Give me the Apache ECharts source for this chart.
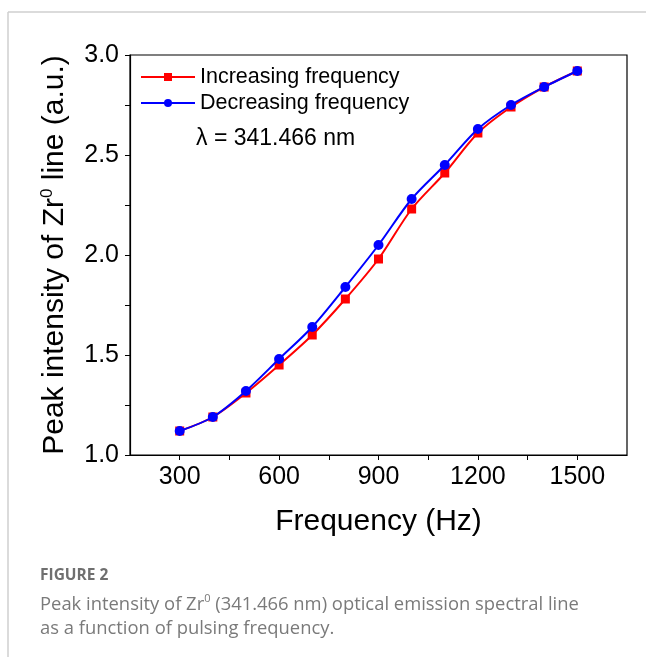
<!DOCTYPE html>
<html>
<head>
<meta charset="utf-8">
<script src="https://cdn.jsdelivr.net/npm/echarts@6/dist/echarts.min.js"></script>
<style>
  html, body { margin: 0; padding: 0; background: #fff; }
  #main { width: 646px; height: 657px; }
</style>
</head>
<body>
<div id="main"></div>
<script>
// pulsing frequency (Hz)
var frequency = [300, 400, 500, 600, 700, 800, 900, 1000, 1100, 1200, 1300, 1400, 1500];
// peak intensity, a.u.
var increasing = [1.12, 1.19, 1.31, 1.45, 1.60, 1.78, 1.98, 2.23, 2.41, 2.61, 2.74, 2.84, 2.92];
var decreasing = [1.12, 1.19, 1.32, 1.48, 1.64, 1.84, 2.05, 2.28, 2.45, 2.63, 2.75, 2.84, 2.92];
var seriesNames = ['Increasing frequency', 'Decreasing frequency'];

function pairs(xs, ys) {
    var out = [];
    for (var i = 0; i < xs.length; i++) {
        out.push([xs[i], ys[i]]);
    }
    return out;
}

var font = 'Liberation Sans, Arial, sans-serif';
var capFont = 'Open Sans, Noto Sans, sans-serif';

var myChart = echarts.init(document.getElementById('main'));
var option = {
    animation: false,
    backgroundColor: '#fff',
    grid: {
        left: 130, right: 19, top: 55, bottom: 202,
        show: true, borderColor: '#000', borderWidth: 1.2
    },
    legend: {
        orient: 'vertical',
        left: 140, top: 66, padding: 0,
        itemWidth: 54, itemHeight: 10, itemGap: 4,
        textStyle: { fontFamily: font, fontSize: 21.5, color: '#000' },
        data: seriesNames
    },
    xAxis: {
        type: 'value',
        min: 150, max: 1650, interval: 150,
        name: 'Frequency (Hz)',
        nameLocation: 'middle',
        nameGap: 52,
        nameTextStyle: { fontFamily: font, fontSize: 30, color: '#000' },
        axisLine: { show: true, lineStyle: { color: '#000', width: 1.2 } },
        axisTick: { show: true, inside: false, length: 5, lineStyle: { color: '#000' } },
        axisLabel: {
            margin: 10, fontFamily: font, fontSize: 25, color: '#000',
            showMinLabel: false, showMaxLabel: false,
            formatter: function (v) { return v % 300 === 0 ? String(v) : ''; }
        },
        splitLine: { show: false }
    },
    yAxis: {
        type: 'value',
        min: 1, max: 3, interval: 0.25,
        name: '{n|Peak intensity of Zr}{s|0}{n| line (a.u.)}',
        nameLocation: 'middle',
        nameRotate: 90,
        nameGap: 60,
        nameTextStyle: {
            fontFamily: font, fontSize: 30, color: '#000',
            rich: {
                n: { fontFamily: font, fontSize: 30, color: '#000' },
                s: { fontFamily: font, fontSize: 17, color: '#000', verticalAlign: 'top', padding: [0, 0, 14, 0] }
            }
        },
        axisLine: { show: true, lineStyle: { color: '#000', width: 1.2 } },
        axisTick: { show: true, inside: false, length: 5, lineStyle: { color: '#000' } },
        axisLabel: {
            margin: 11, fontFamily: font, fontSize: 25, color: '#000',
            formatter: function (v) { return Math.abs(v * 2 - Math.round(v * 2)) < 1e-9 ? v.toFixed(1) : ''; }
        },
        splitLine: { show: false }
    },
    series: [
        {
            name: seriesNames[0],
            type: 'line',
            smooth: 0.3,
            data: pairs(frequency, increasing),
            symbol: 'rect',
            symbolSize: 9,
            color: '#ff0000',
            lineStyle: { width: 2, color: '#ff0000' },
            itemStyle: { color: '#ff0000' },
            z: 2
        },
        {
            name: seriesNames[1],
            type: 'line',
            smooth: 0.3,
            data: pairs(frequency, decreasing),
            symbol: 'circle',
            symbolSize: 10,
            color: '#0000ff',
            lineStyle: { width: 2, color: '#0000ff' },
            itemStyle: { color: '#0000ff' },
            z: 3
        }
    ],
    graphic: [
        { type: 'line', shape: { x1: 8, y1: 12, x2: 646, y2: 12 }, style: { stroke: '#cfcfcf', lineWidth: 1.5 } },
        { type: 'line', shape: { x1: 8, y1: 12, x2: 8, y2: 657 }, style: { stroke: '#cfcfcf', lineWidth: 1.5 } },
        {
            type: 'text', left: 196, top: 127,
            style: { text: 'λ = 341.466 nm', font: '23px ' + font, fill: '#000' }
        },
        {
            type: 'text', left: 40, top: 568,
            style: { text: 'FIGURE 2', font: 'bold 15.5px ' + capFont, fill: '#6f6f6f' }
        },
        {
            type: 'text', left: 40, top: 593,
            style: {
                text: '{t|Peak intensity of Zr}{s|0}{t| (341.466 nm) optical emission spectral line}\n{t|as a function of pulsing frequency.}',
                rich: {
                    t: { fontFamily: capFont, fontSize: 18.4, fill: '#7a7a7a', lineHeight: 24 },
                    s: { fontFamily: capFont, fontSize: 11, fill: '#7a7a7a', verticalAlign: 'top', padding: [0, 0, 9, 0], lineHeight: 24 }
                }
            }
        }
    ]
};
myChart.setOption(option);
</script>
</body>
</html>
